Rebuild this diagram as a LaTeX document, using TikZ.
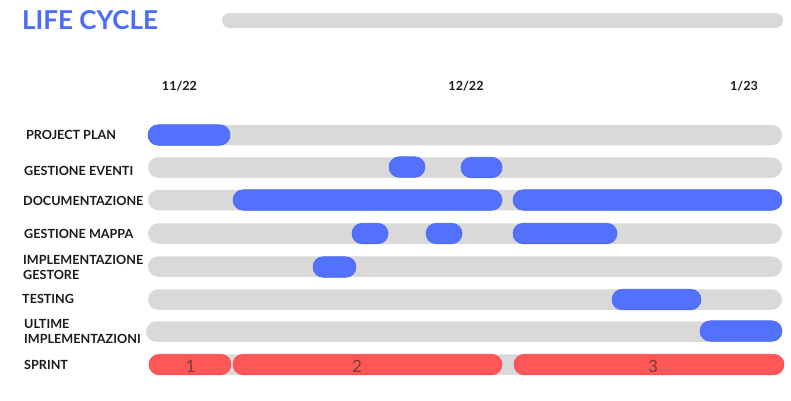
\documentclass[tikz,border=0pt]{standalone}
\usepackage{fontspec}
\setmainfont{Lato}
\definecolor{bargray}{HTML}{D9D9D9}
\definecolor{barblue}{HTML}{5271FF}
\definecolor{edgeblue}{HTML}{4A66EE}
\definecolor{barred}{HTML}{FF5757}
\definecolor{edgered}{HTML}{F04E4E}
\definecolor{titleblue}{HTML}{4A6CF7}
\definecolor{numcol}{HTML}{7A3B3B}
\definecolor{labcol}{HTML}{1A1A1A}
\tikzset{
  barbase/.style={inner sep=0pt, outer sep=0pt, anchor=west, minimum height=20.5pt, rounded corners=10.25pt},
  graybar/.style={barbase, fill=bargray},
  bluebar/.style={barbase, fill=barblue, draw=edgeblue, line width=0.6pt},
  redbar/.style={barbase, fill=barred, draw=edgered, line width=0.6pt},
  sprintnum/.style={inner sep=0pt, text=numcol, font=\fontsize{17}{17}\selectfont},
  rowlabel/.style={anchor=west, inner sep=0pt, text=labcol, font=\bfseries\fontsize{12.6}{15.5}\selectfont, align=left},
  datelabel/.style={inner sep=0pt, text=labcol, font=\bfseries\fontsize{12.6}{14}\selectfont},
}
\begin{document}
\begin{tikzpicture}[x=1pt,y=-1pt]
\useasboundingbox (0,0) rectangle (791,400);
% title
\node[anchor=west, inner sep=0pt, text=titleblue, font=\bfseries\fontsize{26}{26}\selectfont] (title) at (22,20.5) {LIFE CYCLE};
\node[barbase, fill=bargray, minimum height=15pt, rounded corners=7.5pt, minimum width=561pt] (titlebar) at (222,20.5) {};
% dates
\node[datelabel] (d1) at (179.5,86) {11/22};
\node[datelabel] (d2) at (466,86) {12/22};
\node[datelabel] (d3) at (744,86) {1/23};
% row labels
\node[rowlabel] (l1) at (26,135) {PROJECT PLAN};
\node[rowlabel] (l2) at (24,171) {GESTIONE EVENTI};
\node[rowlabel] (l3) at (23,200.5) {DOCUMENTAZIONE};
\node[rowlabel] (l4) at (24,234) {GESTIONE MAPPA};
\node[rowlabel] (l5) at (23,267.5) {IMPLEMENTAZIONE\\GESTORE};
\node[rowlabel] (l6) at (22,299) {TESTING};
\node[rowlabel] (l7) at (24,331.5) {ULTIME\\IMPLEMENTAZIONI};
\node[rowlabel] (l8) at (24,365) {SPRINT};
% gray tracks
\node[graybar, minimum width=634pt] (g1) at (148,135) {};
\node[graybar, minimum width=634pt] (g2) at (148,167.5) {};
\node[graybar, minimum width=634pt] (g3) at (148,200) {};
\node[graybar, minimum width=634pt] (g4) at (148,233.5) {};
\node[graybar, minimum width=634pt] (g5) at (148,266.5) {};
\node[graybar, minimum width=634pt] (g6) at (148,299.5) {};
\node[graybar, minimum width=636pt] (g7) at (146,331.5) {};
\node[graybar, minimum width=634pt] (g8) at (149,364.5) {};
% blue tasks
\node[bluebar, minimum width=82pt] (b1) at (148,135) {};
\node[bluebar, minimum width=36pt] (b2a) at (389,167) {};
\node[bluebar, minimum width=41pt] (b2b) at (461,167.5) {};
\node[bluebar, minimum width=269pt] (b3a) at (233,200) {};
\node[bluebar, minimum width=269pt] (b3b) at (513,200) {};
\node[bluebar, minimum width=36pt] (b4a) at (352,233.5) {};
\node[bluebar, minimum width=36pt] (b4b) at (426,233.5) {};
\node[bluebar, minimum width=104pt] (b4c) at (513,233.5) {};
\node[bluebar, minimum width=43pt] (b5) at (313,267) {};
\node[bluebar, minimum width=89pt] (b6) at (612,299.5) {};
\node[bluebar, minimum width=82pt] (b7) at (700,331) {};
% sprints
\node[redbar, minimum width=82pt] (s1) at (149,364.5) {};
\node[redbar, minimum width=269pt] (s2) at (233,364.5) {};
\node[redbar, minimum width=270pt] (s3) at (514,364.5) {};
\node[sprintnum] (n1) at (190.5,366) {1};
\node[sprintnum] (n2) at (357,366) {2};
\node[sprintnum] (n3) at (653,366) {3};
\end{tikzpicture}
\end{document}
